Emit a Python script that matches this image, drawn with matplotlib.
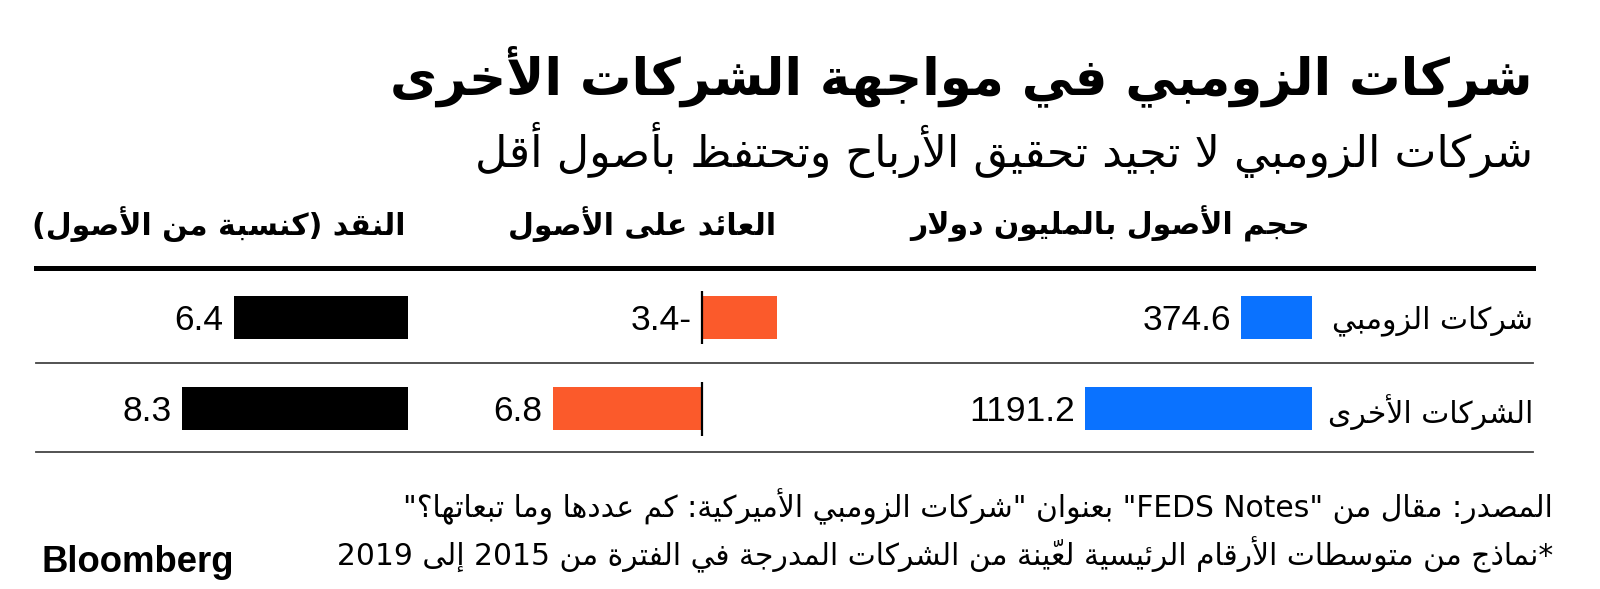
import matplotlib
matplotlib.use("Agg")
import matplotlib.pyplot as plt

# data
rows = ["شركات الزومبي", "الشركات الأخرى"]
assets = [374.6, 1191.2]          # حجم الأصول بالمليون دولار
roa = [-3.4, 6.8]                 # العائد على الأصول
cash = [6.4, 8.3]                 # النقد (كنسبة من الأصول)
headers = ["حجم الأصول بالمليون دولار", "العائد على الأصول", "النقد (كنسبة من الأصول)"]

title = "شركات الزومبي في مواجهة الشركات الأخرى"
subtitle = "شركات الزومبي لا تجيد تحقيق الأرباح وتحتفظ بأصول أقل"
source = 'المصدر: مقال من "FEDS Notes" بعنوان "شركات الزومبي الأميركية: كم عددها وما تبعاتها؟"'
note = "*نماذج من متوسطات الأرقام الرئيسية لعيّنة من الشركات المدرجة في الفترة من 2015 إلى 2019"

BLUE = "#0a72ff"
ORANGE = "#fb5a2b"
BLACK = "#000000"
RULE = "#444444"

# --- minimal arabic shaping + rtl ordering (matplotlib has no text shaping) ---
LETTERS = [("\u0621", 1), ("\u0622", 2), ("\u0623", 2), ("\u0624", 2), ("\u0625", 2),
           ("\u0626", 4), ("\u0627", 2), ("\u0628", 4), ("\u0629", 2), ("\u062A", 4),
           ("\u062B", 4), ("\u062C", 4), ("\u062D", 4), ("\u062E", 4), ("\u062F", 2),
           ("\u0630", 2), ("\u0631", 2), ("\u0632", 2), ("\u0633", 4), ("\u0634", 4),
           ("\u0635", 4), ("\u0636", 4), ("\u0637", 4), ("\u0638", 4), ("\u0639", 4),
           ("\u063A", 4), ("\u0641", 4), ("\u0642", 4), ("\u0643", 4), ("\u0644", 4),
           ("\u0645", 4), ("\u0646", 4), ("\u0647", 4), ("\u0648", 2), ("\u0649", 2),
           ("\u064A", 4)]
FORMS = {}
code = 0xFE80
for ch, n in LETTERS:
    FORMS[ch] = [chr(code + k) for k in range(n)]
    code += n
LAM_ALEF = {"\u0622": ("\uFEF5", "\uFEF6"), "\u0623": ("\uFEF7", "\uFEF8"),
            "\u0625": ("\uFEF9", "\uFEFA"), "\u0627": ("\uFEFB", "\uFEFC")}
MIRROR = {"(": ")", ")": "(", "[": "]", "]": "["}


def is_mark(ch):
    return "\u064B" <= ch <= "\u0652" or ch == "\u0670"


def shape(s):
    n = len(s)

    def prev_joins(i):
        j = i - 1
        while j >= 0 and is_mark(s[j]):
            j -= 1
        return j >= 0 and s[j] in FORMS and len(FORMS[s[j]]) == 4

    def next_letter(i):
        j = i + 1
        while j < n and is_mark(s[j]):
            j += 1
        return j if j < n and s[j] in FORMS else None

    out = []
    i = 0
    while i < n:
        ch = s[i]
        if ch not in FORMS:
            out.append(ch)
            i += 1
            continue
        p = prev_joins(i)
        j = next_letter(i)
        if ch == "\u0644" and j is not None and s[j] in LAM_ALEF:
            out.append(LAM_ALEF[s[j]][1 if p else 0])
            i = j + 1
            continue
        forms = FORMS[ch]
        nx = len(forms) == 4 and j is not None and len(FORMS[s[j]]) > 1
        if len(forms) == 1:
            out.append(forms[0])
        elif len(forms) == 2:
            out.append(forms[1] if p else forms[0])
        else:
            out.append(forms[3] if (p and nx) else forms[1] if p else forms[2] if nx else forms[0])
        i += 1
    return "".join(out)


def rtl(s):
    t = shape(s)
    kinds = []
    for ch in t:
        if is_mark(ch):
            kinds.append("M")
        elif "\u0600" <= ch <= "\u06FF" or "\uFB50" <= ch <= "\uFEFF":
            kinds.append("R")
        elif ch.isascii() and ch.isalnum():
            kinds.append("L")
        else:
            kinds.append("N")
    res = list(kinds)
    for i, k in enumerate(kinds):
        if k == "N":
            before = next((kinds[j] for j in range(i - 1, -1, -1) if kinds[j] in "LR"), "R")
            after = next((kinds[j] for j in range(i + 1, len(kinds)) if kinds[j] in "LR"), "R")
            res[i] = "L" if before == "L" and after == "L" else "R"
        elif k == "M":
            res[i] = res[i - 1] if i > 0 else "R"
    runs = []
    for ch, k in zip(t, res):
        if runs and runs[-1][0] == k:
            runs[-1][1].append(ch)
        else:
            runs.append([k, [ch]])
    out = ""
    for k, seg in reversed(runs):
        if k == "L":
            out += "".join(seg)
        else:
            clusters = []
            for ch in seg:
                if is_mark(ch) and clusters:
                    clusters[-1] += ch
                else:
                    clusters.append(MIRROR.get(ch, ch))
            out += "".join(reversed(clusters))
    return out


AR = ["DejaVu Sans"]
NUM = ["Liberation Sans", "DejaVu Sans"]

W, H = 1600, 589
fig = plt.figure(figsize=(W / 100, H / 100), dpi=100)
fig.patch.set_facecolor("white")


def fx(px):
    return px / W


def fy(py):
    return 1 - py / H


RIGHT = 1533

# titles
fig.text(fx(RIGHT), fy(76), rtl(title), family=AR, fontsize=37, fontweight="bold",
         ha="right", va="center")
fig.text(fx(RIGHT), fy(150), rtl(subtitle), family=AR, fontsize=32,
         ha="right", va="center")

# table area
top_px, bot_px = 267.5, 452
ylim = (1.47, -0.546)


def make_ax(left_px, right_px):
    ax = fig.add_axes([fx(left_px), fy(bot_px), (right_px - left_px) / W, (bot_px - top_px) / H])
    ax.set_ylim(*ylim)
    ax.axis("off")
    return ax


bg = make_ax(36, RIGHT)
bg.set_xlim(0, 1)
bg.axhline(ylim[1], color=BLACK, lw=3.6, clip_on=False)
bg.axhline(0.5, color=RULE, lw=1.3, clip_on=False)
bg.axhline(ylim[0], color=RULE, lw=1.3, clip_on=False)

ypos = list(range(len(rows)))
bar_h = 0.47
num_size = 25.5

ax_a = make_ax(1000, 1312)
ax_a.set_xlim(1640, 0)
ax_a.barh(ypos, assets, height=bar_h, color=BLUE)
for y, v in zip(ypos, assets):
    ax_a.annotate(f"{v:.1f}", xy=(v, y), xytext=(-10, -3), textcoords="offset pixels",
                  ha="right", va="center", family=NUM, fontsize=num_size)

ax_r = make_ax(470, 800)
ax_r.set_xlim(10.55, -4.45)
ax_r.barh(ypos, roa, height=bar_h, color=ORANGE)
for y, v in zip(ypos, roa):
    ax_r.vlines(0, y - 0.29, y + 0.29, color=BLACK, lw=1.6)
    lab = f"{abs(v):.1f}-" if v < 0 else f"{v:.1f}"
    ax_r.annotate(lab, xy=(max(v, 0), y), xytext=(-10, -3), textcoords="offset pixels",
                  ha="right", va="center", family=NUM, fontsize=num_size)

ax_c = make_ax(100, 408)
ax_c.set_xlim(11.31, 0)
ax_c.barh(ypos, cash, height=bar_h, color=BLACK)
for y, v in zip(ypos, cash):
    ax_c.annotate(f"{v:.1f}", xy=(v, y), xytext=(-10, -3), textcoords="offset pixels",
                  ha="right", va="center", family=NUM, fontsize=num_size)

# column headers
for x_px, h in zip([1310, 776, 406], headers):
    fig.text(fx(x_px), fy(224), rtl(h), family=AR, fontsize=21.5, fontweight="bold",
             ha="right", va="center")

# row labels
for y, r in zip(ypos, rows):
    bg.annotate(rtl(r), xy=(1, y), xytext=(0, -3), textcoords="offset pixels",
                ha="right", va="center", family=AR, fontsize=21.5)

# footer
fig.text(fx(1553), fy(507), rtl(source), family=AR, fontsize=21.4, ha="right", va="center")
fig.text(fx(1553), fy(555), rtl(note), family=AR, fontsize=21.4, ha="right", va="center")
fig.text(fx(41), fy(562), "Bloomberg", family=["Liberation Sans"], fontsize=26.3,
         fontweight="bold", ha="left", va="center")

fig.savefig("out.png", dpi=100)
